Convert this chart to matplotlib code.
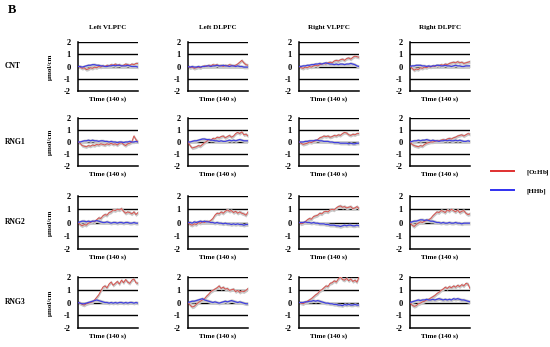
import numpy as np
import matplotlib
matplotlib.use("Agg")
import matplotlib.pyplot as plt
from matplotlib.lines import Line2D

plt.rcParams['font.family'] = ['Liberation Serif', 'DejaVu Serif']
plt.rcParams['font.weight'] = 'bold'
plt.rcParams['mathtext.fontset'] = 'stix'

regions = ["Left VLPFC", "Left DLPFC", "Right VLPFC", "Right DLPFC"]
groups = ["CNT", "RNG1", "RNG2", "RNG3"]
yticks = [-2, -1, 0, 1, 2]

# O2Hb (red) per group, per region
o2hb = {
    "CNT": [
        [0, -0.05, -0.15, -0.1, -0.25, -0.2, -0.1, -0.15, -0.05, -0.1, 0.0, -0.05, 0.05, 0.0, 0.1, 0.05, 0.15, 0.1, 0.2, 0.1, 0.15, 0.05, 0.1, 0.2, 0.15, 0.1, 0.2, 0.15, 0.25, 0.25],
        [0, -0.1, -0.05, -0.15, -0.1, -0.05, -0.1, 0.0, 0.05, 0.0, 0.1, 0.05, 0.15, 0.1, 0.15, 0.05, 0.1, 0.0, 0.1, 0.05, 0.15, 0.1, 0.05, 0.1, 0.2, 0.35, 0.5, 0.3, 0.15, 0.1],
        [0, -0.1, -0.15, -0.05, -0.1, 0.0, -0.05, 0.05, 0.1, 0.05, 0.15, 0.2, 0.25, 0.2, 0.3, 0.35, 0.3, 0.45, 0.5, 0.45, 0.55, 0.6, 0.5, 0.65, 0.7, 0.6, 0.75, 0.85, 0.8, 0.75],
        [0, -0.15, -0.3, -0.2, -0.25, -0.1, -0.15, -0.05, -0.1, 0.0, -0.05, 0.05, 0.0, 0.1, 0.05, 0.15, 0.1, 0.2, 0.15, 0.25, 0.3, 0.35, 0.3, 0.4, 0.3, 0.35, 0.25, 0.3, 0.35, 0.4],
    ],
    "RNG1": [
        [0, -0.1, -0.3, -0.35, -0.4, -0.3, -0.35, -0.25, -0.3, -0.2, -0.25, -0.15, -0.2, -0.25, -0.15, -0.2, -0.1, -0.2, -0.15, -0.25, -0.1, -0.05, -0.2, -0.3, -0.15, -0.1, 0.0, 0.5, 0.2, 0.0],
        [0, -0.3, -0.5, -0.45, -0.4, -0.3, -0.35, -0.2, -0.05, 0.05, 0.2, 0.15, 0.3, 0.25, 0.4, 0.35, 0.45, 0.5, 0.35, 0.45, 0.55, 0.4, 0.5, 0.7, 0.8, 0.7, 0.85, 0.6, 0.65, 0.5],
        [0, -0.1, -0.2, -0.15, -0.1, 0.0, -0.05, 0.05, 0.1, 0.2, 0.35, 0.4, 0.5, 0.45, 0.5, 0.4, 0.45, 0.55, 0.5, 0.6, 0.55, 0.7, 0.8, 0.75, 0.6, 0.55, 0.65, 0.6, 0.7, 0.7],
        [0, -0.2, -0.3, -0.35, -0.4, -0.3, -0.35, -0.2, -0.1, -0.05, 0.0, 0.0, 0.05, 0.1, 0.1, 0.15, 0.2, 0.15, 0.25, 0.3, 0.25, 0.35, 0.4, 0.5, 0.55, 0.6, 0.5, 0.6, 0.7, 0.65],
    ],
    "RNG2": [
        [0, -0.15, -0.25, -0.15, -0.2, -0.05, 0.0, 0.1, 0.05, 0.2, 0.35, 0.3, 0.5, 0.6, 0.55, 0.75, 0.8, 0.95, 0.9, 1.0, 0.95, 1.05, 0.85, 0.7, 0.8, 0.75, 0.65, 0.8, 0.6, 0.75],
        [0, -0.15, -0.2, -0.1, -0.15, 0.0, -0.05, 0.05, 0.0, 0.1, 0.05, 0.15, 0.3, 0.55, 0.7, 0.65, 0.8, 0.7, 0.85, 0.95, 0.85, 0.9, 0.75, 0.85, 0.7, 0.8, 0.7, 0.65, 0.55, 0.8],
        [0, -0.1, -0.05, 0.05, 0.2, 0.3, 0.25, 0.45, 0.5, 0.55, 0.7, 0.65, 0.8, 0.85, 0.8, 0.95, 1.0, 0.95, 1.1, 1.2, 1.25, 1.15, 1.2, 1.1, 1.15, 1.2, 1.05, 1.1, 1.2, 1.05],
        [0, -0.2, -0.3, -0.15, -0.05, 0.05, 0.0, 0.1, 0.15, 0.2, 0.3, 0.5, 0.65, 0.8, 0.75, 0.9, 0.85, 0.75, 0.95, 0.85, 1.0, 0.9, 0.8, 0.95, 0.75, 0.85, 0.9, 0.7, 0.6, 0.65],
    ],
    "RNG3": [
        [0, -0.05, -0.15, -0.2, -0.1, -0.05, 0.0, 0.05, 0.2, 0.4, 0.6, 0.9, 1.2, 1.3, 1.15, 1.45, 1.6, 1.35, 1.5, 1.65, 1.45, 1.75, 1.55, 1.8, 1.6, 1.5, 1.75, 1.85, 1.55, 1.5],
        [0, -0.2, -0.35, -0.3, -0.15, 0.0, 0.1, 0.2, 0.3, 0.5, 0.65, 0.85, 0.95, 1.05, 1.15, 1.3, 1.1, 1.2, 1.05, 1.1, 0.95, 1.0, 1.05, 0.85, 0.95, 0.8, 0.9, 0.85, 0.95, 1.1],
        [0, -0.05, -0.1, 0.0, 0.1, 0.2, 0.3, 0.45, 0.6, 0.7, 0.9, 1.0, 1.15, 1.3, 1.25, 1.5, 1.55, 1.7, 1.6, 1.85, 2.0, 1.8, 1.75, 1.9, 1.7, 1.85, 1.65, 1.75, 1.6, 2.0],
        [0, -0.2, -0.3, -0.25, -0.1, -0.05, 0.05, 0.1, 0.2, 0.25, 0.35, 0.45, 0.55, 0.7, 0.8, 0.95, 1.05, 1.2, 1.1, 1.25, 1.15, 1.3, 1.2, 1.35, 1.25, 1.4, 1.3, 1.5, 1.45, 1.1],
    ],
}

# HHb (blue) per group, per region
hhb = {
    "CNT": [
        [0, 0.0, -0.05, 0.0, 0.05, 0.1, 0.1, 0.15, 0.15, 0.1, 0.1, 0.05, 0.05, 0.0, 0.0, 0.05, 0.05, 0.1, 0.05, 0.1, 0.1, 0.05, 0.05, 0.05, 0.1, 0.05, 0.0, 0.0, 0.0, -0.05],
        [0, -0.05, 0.0, -0.05, -0.05, 0.0, -0.05, 0.0, 0.0, 0.05, 0.05, 0.0, 0.05, 0.05, 0.1, 0.05, 0.05, 0.1, 0.05, 0.05, 0.0, 0.05, 0.05, 0.0, 0.05, 0.0, 0.0, -0.05, -0.05, -0.05],
        [0, 0.0, 0.05, 0.05, 0.1, 0.1, 0.15, 0.15, 0.2, 0.2, 0.25, 0.2, 0.25, 0.3, 0.25, 0.2, 0.2, 0.15, 0.2, 0.15, 0.2, 0.2, 0.15, 0.2, 0.2, 0.25, 0.2, 0.15, 0.05, 0.0],
        [0, 0.05, 0.05, 0.1, 0.1, 0.1, 0.05, 0.05, 0.0, 0.05, 0.0, 0.05, 0.05, 0.1, 0.1, 0.05, 0.05, 0.1, 0.05, 0.05, 0.0, 0.05, 0.1, 0.05, 0.05, 0.0, 0.0, 0.05, 0.05, 0.05],
    ],
    "RNG1": [
        [0, 0.0, 0.05, 0.1, 0.1, 0.15, 0.1, 0.15, 0.1, 0.1, 0.05, 0.1, 0.1, 0.05, 0.05, 0.0, 0.05, 0.0, 0.0, -0.05, 0.0, 0.0, -0.05, 0.0, 0.0, 0.05, 0.0, 0.0, 0.05, 0.0],
        [0, 0.0, 0.05, 0.1, 0.1, 0.15, 0.2, 0.25, 0.25, 0.2, 0.2, 0.15, 0.15, 0.1, 0.1, 0.05, 0.1, 0.05, 0.05, 0.1, 0.15, 0.1, 0.15, 0.1, 0.15, 0.2, 0.15, 0.1, 0.1, 0.1],
        [0, 0.0, 0.0, 0.05, 0.05, 0.1, 0.1, 0.1, 0.15, 0.15, 0.1, 0.1, 0.05, 0.05, 0.05, 0.0, 0.0, -0.05, -0.05, -0.05, -0.1, -0.1, -0.1, -0.1, -0.15, -0.1, -0.15, -0.15, -0.1, -0.1],
        [0, 0.05, 0.1, 0.1, 0.15, 0.1, 0.15, 0.15, 0.2, 0.15, 0.1, 0.15, 0.1, 0.1, 0.05, 0.1, 0.1, 0.15, 0.1, 0.15, 0.1, 0.1, 0.15, 0.1, 0.15, 0.1, 0.05, 0.05, 0.1, 0.05],
    ],
    "RNG2": [
        [0, 0.05, 0.1, 0.1, 0.05, 0.1, 0.05, 0.1, 0.1, 0.15, 0.1, 0.05, 0.0, 0.0, 0.05, 0.0, -0.05, 0.0, 0.0, -0.05, 0.0, 0.0, -0.05, 0.0, 0.0, -0.05, -0.05, 0.0, -0.05, -0.05],
        [0, 0.0, -0.05, 0.05, 0.0, 0.05, 0.1, 0.05, 0.1, 0.05, 0.05, 0.0, 0.0, -0.05, 0.0, -0.05, -0.05, -0.1, -0.05, -0.1, -0.1, -0.15, -0.1, -0.15, -0.1, -0.15, -0.15, -0.2, -0.15, -0.15],
        [0, 0.0, 0.0, 0.05, 0.0, 0.0, -0.05, 0.0, -0.05, -0.05, -0.1, -0.1, -0.1, -0.15, -0.15, -0.2, -0.2, -0.2, -0.25, -0.25, -0.3, -0.25, -0.2, -0.25, -0.2, -0.2, -0.25, -0.25, -0.2, -0.25],
        [0, 0.05, 0.1, 0.1, 0.15, 0.2, 0.2, 0.15, 0.2, 0.15, 0.1, 0.1, 0.05, 0.0, 0.0, -0.05, 0.0, -0.05, -0.05, 0.0, -0.05, -0.05, 0.0, -0.05, -0.05, -0.1, -0.05, -0.05, -0.05, -0.05],
    ],
    "RNG3": [
        [0, -0.05, -0.1, -0.1, -0.05, 0.0, 0.05, 0.1, 0.15, 0.2, 0.15, 0.1, 0.05, 0.0, 0.0, -0.05, 0.0, -0.05, 0.0, -0.05, 0.0, 0.0, -0.05, 0.0, -0.05, 0.0, 0.0, -0.05, 0.0, -0.05],
        [0, 0.05, 0.1, 0.1, 0.15, 0.2, 0.25, 0.3, 0.2, 0.15, 0.1, 0.05, 0.0, 0.05, 0.0, -0.05, 0.0, 0.05, 0.1, 0.05, 0.1, 0.15, 0.1, 0.05, 0.0, 0.05, 0.0, -0.05, -0.1, -0.1],
        [0, 0.0, 0.0, 0.05, 0.05, 0.1, 0.1, 0.15, 0.1, 0.15, 0.1, 0.05, 0.0, -0.05, -0.05, -0.1, -0.1, -0.15, -0.15, -0.2, -0.2, -0.25, -0.15, -0.2, -0.15, -0.2, -0.2, -0.15, -0.2, -0.2],
        [0, 0.05, 0.1, 0.15, 0.2, 0.15, 0.2, 0.2, 0.25, 0.2, 0.2, 0.25, 0.2, 0.25, 0.3, 0.25, 0.2, 0.25, 0.2, 0.25, 0.2, 0.3, 0.25, 0.3, 0.25, 0.2, 0.2, 0.15, 0.1, 0.05],
    ],
}

err = 0.14
red = '#d9534f'
blue = '#4040e0'
band = '#c8c8c8'

W, H = 550, 347
fig = plt.figure(figsize=(5.5, 3.47), dpi=100)

col_left = [78, 188, 299, 410]
col_w = 60
row_top = [42, 118, 196, 277]
row_bot = [91, 166, 249, 328]

for r, g in enumerate(groups):
    for c, reg in enumerate(regions):
        ax = fig.add_axes([col_left[c] / W, 1 - row_bot[r] / H,
                           col_w / W, (row_bot[r] - row_top[r]) / H])
        y1 = np.array(o2hb[g][c])
        y2 = np.array(hhb[g][c])
        x = np.arange(len(y1))
        for yv in [2, 1, 0, -1]:
            ax.axhline(yv, color='black', lw=1.0, zorder=1)
        ax.fill_between(x, y1 - err, y1 + err, color=band, lw=0, zorder=2)
        ax.fill_between(x, y2 - err, y2 + err, color=band, lw=0, zorder=2)
        ax.plot(x, y1, color=red, lw=0.7, zorder=3)
        ax.plot(x, y2, color=blue, lw=0.9, zorder=3)
        ax.set_xlim(0, len(y1) - 1)
        ax.set_ylim(-2, 2)
        ax.set_yticks(yticks)
        ax.set_yticklabels([str(t) for t in yticks], fontsize=6, fontweight='bold')
        ax.set_xticks([])
        ax.tick_params(axis='y', length=0, pad=5)
        for s in ['top', 'right']:
            ax.spines[s].set_visible(False)
        ax.spines['left'].set_linewidth(1.1)
        ax.spines['bottom'].set_linewidth(1.1)
        ax.set_xlabel("Time (140 s)", fontsize=5, fontweight='bold', labelpad=4)
        if r == 0:
            ax.set_title(reg, fontsize=5, fontweight='bold', pad=9)
        if c == 0:
            ax.set_ylabel("μmol/cm", fontsize=5, fontweight='bold', labelpad=8)
            fig.text(5 / W, 1 - (row_top[r] + row_bot[r]) / 2 / H, g,
                     fontsize=5.5, fontweight='bold', ha='left', va='center')

fig.text(8 / W, 1 - 10 / H, "B", fontsize=9, fontweight='bold', ha='left', va='center')

handles = [Line2D([], [], color='#e03030', lw=1.4), Line2D([], [], color='#3030f0', lw=1.4)]
fig.legend(handles, [r"[O$_\mathbf{2}$Hb]", "[HHb]"], loc='center left',
           bbox_to_anchor=(486 / W, 1 - 181 / H), frameon=False,
           fontsize=5, handlelength=3.3, handletextpad=1.8, labelspacing=1.6,
           borderpad=0.2)

fig.savefig("out.png", dpi=100)
